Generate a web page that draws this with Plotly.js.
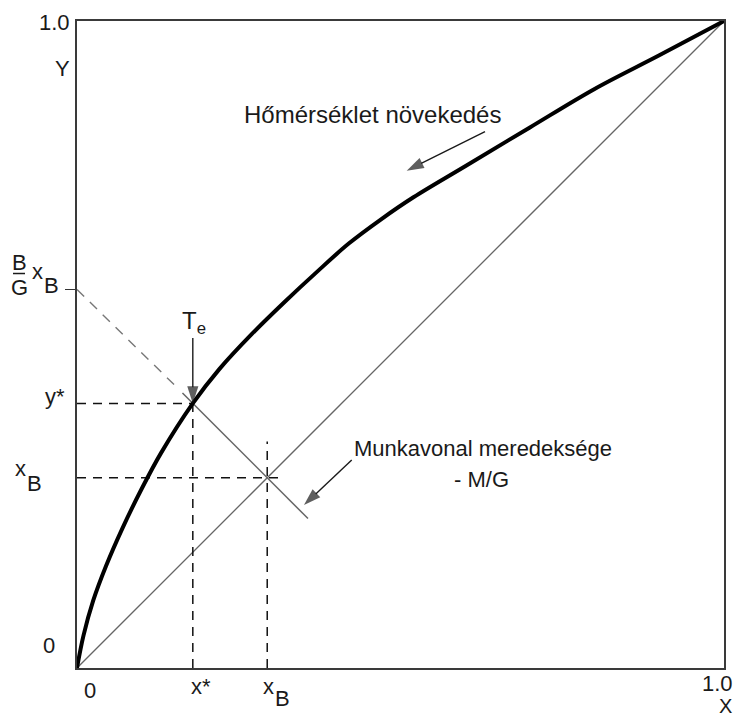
<!DOCTYPE html>
<html>
<head>
<meta charset="utf-8">
<script src="https://cdn.plot.ly/plotly-3.0.1.min.js"></script>
<style>html,body{margin:0;padding:0;background:#fff}</style>
</head>
<body>
<div id="chart" style="width:736px;height:717px"></div>
<script>
// Equilibrium curve y(x) for the light component
const eqX = [0, 0.010, 0.025, 0.045, 0.070, 0.100, 0.130, 0.179, 0.220, 0.270,
             0.320, 0.370, 0.420, 0.470, 0.520, 0.600, 0.700, 0.800, 0.900, 1];
const eqY = [0, 0.050, 0.104, 0.158, 0.2155, 0.277, 0.3325, 0.409, 0.462, 0.516,
             0.565, 0.6115, 0.656, 0.6935, 0.7275, 0.7755, 0.8355, 0.8950, 0.9470, 1];

// y = x diagonal
const diagX = [0, 1];
const diagY = [0, 1];

// characteristic compositions
const xStar = 0.179;   // x*
const yStar = 0.409;   // y*
const xB = 0.294;      // x_B
const bgxB = 0.585;    // (B/G)·x_B

// operating line, slope -M/G (dashed extension to the Y axis, then solid)
const opDashedX = [0, 0.150];
const opDashedY = [0.585, 0.438];
const opSolidX = [0.163, 0.357];
const opSolidY = [0.425, 0.231];

// reach of the dashed x_B guide lines
const xBHorizEnd = 0.319;
const xBVertEnd = 0.350;

const FONT = 'Liberation Sans, Arial, Helvetica, sans-serif';
const INK = '#1a1a1a';

const guideX = [0, xStar, null, xStar, xStar, null, 0, xBHorizEnd, null, xB, xB];
const guideY = [yStar, yStar, null, 0, yStar, null, xB, xB, null, 0, xBVertEnd];

function arrowTrace(x0, y0, x1, y1) {
  return {
    x: [x0, x1], y: [y0, y1], type: 'scatter', mode: 'lines+markers', cliponaxis: false,
    line: {color: INK, width: 1.4},
    marker: {symbol: 'arrow', angleref: 'previous', size: [0, 18], color: INK, line: {width: 0}},
    hoverinfo: 'skip'
  };
}

const traces = [
  {x: diagX, y: diagY, type: 'scatter', mode: 'lines', line: {color: '#666', width: 1.3}},
  {x: guideX, y: guideY, type: 'scatter', mode: 'lines', connectgaps: false,
   line: {color: '#111', width: 1.5, dash: '9px,7px'}},
  {x: opDashedX, y: opDashedY, type: 'scatter', mode: 'lines',
   line: {color: '#777', width: 1.4, dash: '10px,8px'}},
  {x: opSolidX, y: opSolidY, type: 'scatter', mode: 'lines', line: {color: '#666', width: 1.5}},
  {x: eqX, y: eqY, type: 'scatter', mode: 'lines', cliponaxis: false,
   line: {color: '#000', width: 4, shape: 'spline', smoothing: 1}},
  arrowTrace(xStar, 0.510, xStar, yStar),
  arrowTrace(0.6306, 0.8289, 0.5096, 0.7686),
  arrowTrace(0.4246, 0.3215, 0.3508, 0.2519)
];

// text placed at a data point, shifted in pixels (dy positive = downwards)
function label(text, x, y, dx, dy, anchor, size) {
  return {
    text: text, x: x, y: y, xref: 'x', yref: 'y', showarrow: false,
    xanchor: anchor || 'center', yanchor: 'middle',
    xshift: dx, yshift: -dy,
    font: {family: FONT, size: size || 22, color: INK}
  };
}

const annotations = [
  // Y axis
  label('1.0', 0, 1, -5, 1, 'right'),
  label('Y', 0, 1, -5, 47, 'right'),
  label('B', 0, bgxB, -58, -27),
  label('G', 0, bgxB, -58, -2),
  label('x', 0, bgxB, -40, -18),
  label('B', 0, bgxB, -26, -4),
  label('y*', 0, yStar, -10, -7, 'right'),
  label('x', 0, xB, -57, -9),
  label('B', 0, xB, -43, 6),
  label('0', 0, 0, -20, -23, 'right'),
  // X axis
  label('0', 0, 0, 13, 22),
  label('x*', xStar, 0, -4, 18, 'left'),
  label('x', xB, 0, 1, 18),
  label('B', xB, 0, 15, 30),
  label('1.0', 1, 0, -7, 15),
  label('X', 1, 0, 1, 38, 'center', 20),
  // T_e marker
  label('T<sub>e</sub>', xStar, yStar, 1, -81, 'center', 24),
  // notes
  label('Hőmérséklet növekedés', 0.255, 0.855, 0, 0, 'left', 24),
  label('Munkavonal meredeksége', 0.425, 0.340, 0, 0, 'left'),
  label('- M/G', 0.5796, 0.2906, 0, 0, 'left')
];

const layout = {
  width: 736, height: 717,
  margin: {l: 77, r: 12, t: 21, b: 49, pad: 0},
  paper_bgcolor: '#fff', plot_bgcolor: '#fff',
  showlegend: false, hovermode: false,
  font: {family: FONT, size: 22, color: INK},
  xaxis: {range: [0, 1], showgrid: false, zeroline: false, showticklabels: false, ticks: '',
          showline: true, mirror: true, linewidth: 2, linecolor: '#3a3a3a', fixedrange: true},
  yaxis: {range: [0, 1], showgrid: false, zeroline: false, showticklabels: false,
          tickmode: 'array', tickvals: [bgxB], ticks: 'outside', ticklen: 10, tickwidth: 1.5,
          tickcolor: '#333',
          showline: true, mirror: true, linewidth: 2, linecolor: '#3a3a3a', fixedrange: true},
  shapes: [
    // fraction bar of B/G
    {type: 'line', xref: 'paper', yref: 'y', xsizemode: 'pixel', ysizemode: 'pixel',
     xanchor: 0, yanchor: bgxB, x0: -64, x1: -52, y0: 16, y1: 16,
     line: {color: INK, width: 1.5}}
  ],
  annotations: annotations
};

Plotly.newPlot('chart', traces, layout, {staticPlot: true, displayModeBar: false});
</script>
</body>
</html>
